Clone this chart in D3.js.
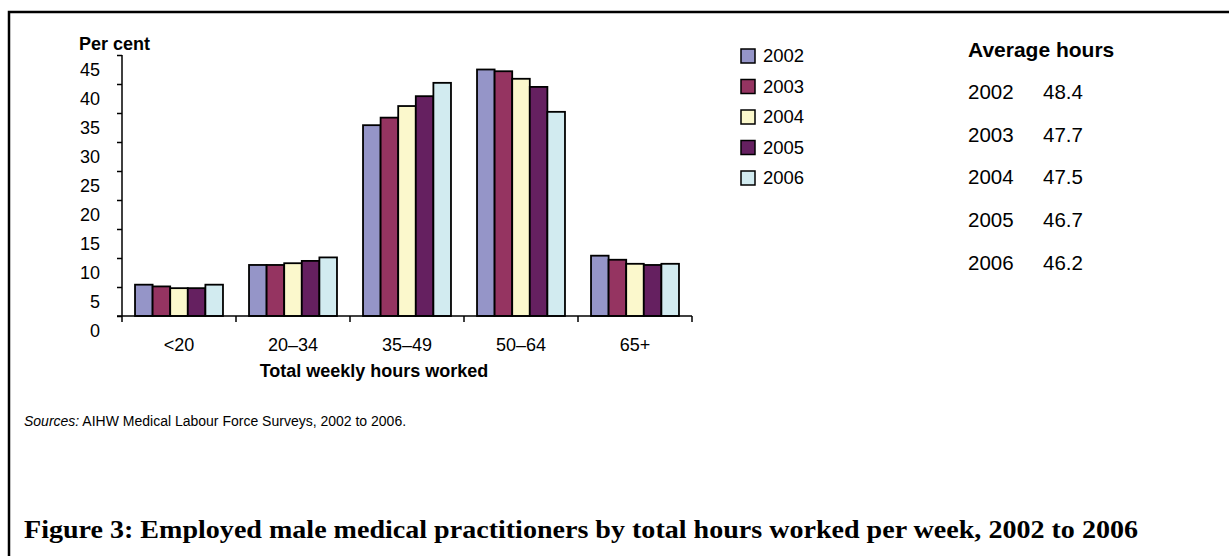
<!DOCTYPE html>
<html>
<head>
<meta charset="utf-8">
<script src="https://cdn.jsdelivr.net/npm/d3@7"></script>
<style>
  body { margin: 0; background: #fff; }
  svg { display: block; font-family: "Liberation Sans", Arial, sans-serif; }
</style>
</head>
<body>
<div id="chartArea"></div>
<script>
const categories = ["<20", "20–34", "35–49", "50–64", "65+"];
const years = ["2002", "2003", "2004", "2005", "2006"];
// per cent of employed male practitioners, one array per year (same order as categories)
const values2002 = [5.4, 8.8, 32.9, 42.5, 10.4];
const values2003 = [5.1, 8.8, 34.2, 42.2, 9.7];
const values2004 = [4.8, 9.1, 36.2, 40.9, 9.0];
const values2005 = [4.8, 9.5, 37.9, 39.5, 8.8];
const values2006 = [5.4, 10.1, 40.2, 35.2, 9.0];
const averageHours = [48.4, 47.7, 47.5, 46.7, 46.2];
const yTicks = [0, 5, 10, 15, 20, 25, 30, 35, 40, 45];
const yearColors = ["#9595c8", "#953461", "#fbf8cc", "#652060", "#d2ebf0"];

const seriesValues = [values2002, values2003, values2004, values2005, values2006];
const data = [];
categories.forEach((c, i) => {
    years.forEach((yr, j) => {
        data.push({ category: c, year: yr, value: seriesValues[j][i] });
    });
});

const W = 1229, H = 556;
const svg = d3.select("#chartArea").append("svg")
    .attr("width", W)
    .attr("height", H);

// frame (only top and left are inside the picture)
svg.append("rect")
    .attr("x", 9).attr("y", 12)
    .attr("width", 1400).attr("height", 700)
    .attr("fill", "none")
    .attr("stroke", "#000")
    .attr("stroke-width", 2.5);

const x0 = d3.scaleBand().domain(categories).range([122, 692]).padding(0);
const x1 = d3.scaleBand().domain(years).range([0, x0.bandwidth()]).paddingInner(0).paddingOuter(0.74);
const y = d3.scaleLinear().domain([0, 45]).range([316, 55]);
const color = d3.scaleOrdinal().domain(years).range(yearColors);

// bars
svg.append("g")
    .selectAll("rect")
    .data(data)
    .enter().append("rect")
    .attr("x", d => x0(d.category) + x1(d.year))
    .attr("y", d => y(d.value))
    .attr("width", x1.bandwidth())
    .attr("height", d => y(0) - y(d.value))
    .style("fill", d => color(d.year))
    .style("stroke", "#000")
    .style("stroke-width", 1.8);

// y axis, labels sit half a step below their tick like the original
const halfStep = (y(0) - y(5)) / 2;
const yAxis = svg.append("g")
    .attr("transform", "translate(122,0)")
    .call(d3.axisLeft(y).tickValues(yTicks).tickSize(5).tickPadding(17));
yAxis.select(".domain").attr("d", `M0,${y(45)}V${y(0)}`).attr("stroke", "#000").attr("stroke-width", 1.5);
yAxis.selectAll(".tick line").attr("stroke", "#000").attr("stroke-width", 1.5);
yAxis.selectAll(".tick text")
    .attr("dy", "0.32em")
    .attr("y", halfStep)
    .style("font-size", "18px")
    .style("font-family", "Liberation Sans, Arial, sans-serif")
    .attr("fill", "#000");

// x baseline and category boundary ticks
svg.append("line")
    .attr("x1", 117).attr("x2", x0.range()[1])
    .attr("y1", y(0)).attr("y2", y(0))
    .attr("stroke", "#000").attr("stroke-width", 1.5);
const bounds = categories.map(c => x0(c)).concat([x0.range()[1]]);
svg.append("g").selectAll("line")
    .data(bounds)
    .enter().append("line")
    .attr("x1", d => d).attr("x2", d => d)
    .attr("y1", y(0)).attr("y2", y(0) + 6)
    .attr("stroke", "#000").attr("stroke-width", 1.5);

const xAxis = svg.append("g")
    .attr("transform", `translate(0,${y(0)})`)
    .call(d3.axisBottom(x0).tickSize(0).tickPadding(22));
xAxis.select(".domain").remove();
xAxis.selectAll("text")
    .style("font-size", "18px")
    .style("font-family", "Liberation Sans, Arial, sans-serif")
    .attr("fill", "#000");

// axis titles
svg.append("text")
    .attr("x", 79).attr("y", 50)
    .style("font-size", "18px").style("font-weight", "bold")
    .text("Per cent");
svg.append("text")
    .attr("x", 374).attr("y", 377)
    .attr("text-anchor", "middle")
    .style("font-size", "18px").style("font-weight", "bold")
    .text("Total weekly hours worked");

// legend
const legend = svg.append("g").attr("transform", "translate(741,56)");
const legendItem = legend.selectAll("g")
    .data(years)
    .enter().append("g")
    .attr("transform", (d, i) => `translate(0,${i * 30.5})`);
legendItem.append("rect")
    .attr("x", 0).attr("y", -7)
    .attr("width", 14).attr("height", 14)
    .style("fill", d => color(d))
    .style("stroke", "#000").style("stroke-width", 1.5);
legendItem.append("text")
    .attr("x", 22).attr("y", 0).attr("dy", "0.35em")
    .style("font-size", "18.5px")
    .text(d => d);

// average hours table
const avg = svg.append("g").attr("transform", "translate(968,0)");
avg.append("text")
    .attr("x", 0).attr("y", 50).attr("dy", "0.35em")
    .style("font-size", "21px").style("font-weight", "bold")
    .text("Average hours");
const avgRow = avg.selectAll("g.row")
    .data(years)
    .enter().append("g")
    .attr("class", "row")
    .attr("transform", (d, i) => `translate(0,${92 + i * 42.6})`);
avgRow.append("text")
    .attr("dy", "0.35em")
    .style("font-size", "20.5px")
    .text(d => d);
avgRow.append("text")
    .attr("x", 75).attr("dy", "0.35em")
    .style("font-size", "20.5px")
    .text((d, i) => averageHours[i].toFixed(1));

// source note
const src = svg.append("text")
    .attr("x", 24).attr("y", 426)
    .style("font-size", "14px");
src.append("tspan").style("font-style", "italic").text("Sources:");
src.append("tspan").text(" AIHW Medical Labour Force Surveys, 2002 to 2006.");

// figure caption
svg.append("text")
    .attr("x", 24).attr("y", 538)
    .attr("textLength", 1114)
    .attr("lengthAdjust", "spacingAndGlyphs")
    .style("font-family", "Liberation Serif, 'Times New Roman', serif")
    .style("font-size", "26px").style("font-weight", "bold")
    .text("Figure 3: Employed male medical practitioners by total hours worked per week, 2002 to 2006");
</script>
</body>
</html>
